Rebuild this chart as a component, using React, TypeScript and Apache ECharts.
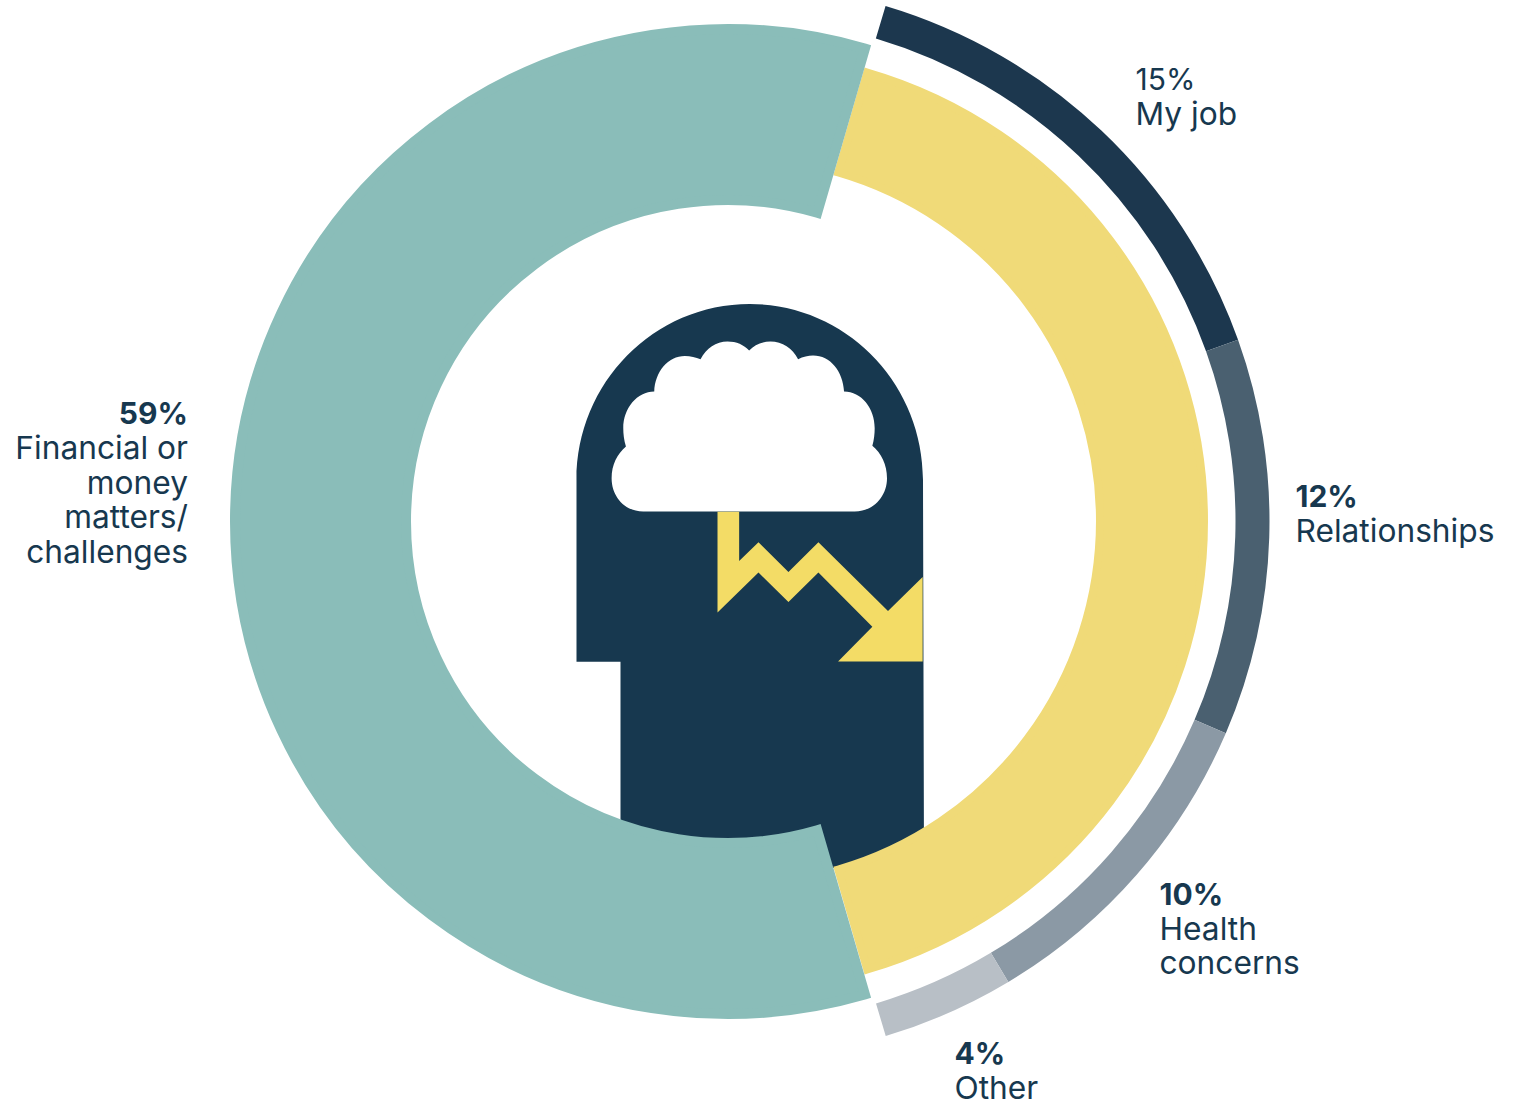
import React, { useEffect, useRef } from "react";
import * as echarts from "echarts";

// Survey shares
const financialCategory = "Financial or money matters/ challenges";
const financialValue = 59;
const otherCategories = ["My job", "Relationships", "Health concerns", "Other"];
const otherValues = [15, 12, 10, 4];
const otherTotal = 41;

const outerColors = ["#1c374e", "#4a6070", "#8b99a5", "#b8bfc6"];
const TEAL = "#8abdb9";
const YELLOW = "#f0da78";
const NAVY = "#17384f";
const ARROW = "#f3dc66";

// Label blocks: percentage line followed by wrapped description lines
const labelBlocks = [
  { pct: "59%", lines: ["Financial or", "money", "matters/", "challenges"], x: 188, y: 413, align: "right", style: "bold" },
  { pct: "15%", lines: ["My job"], x: 1135.5, y: 78.5, align: "left", style: "plain" },
  { pct: "12%", lines: ["Relationships"], x: 1295.5, y: 496, align: "left", style: "bold" },
  { pct: "10%", lines: ["Health", "concerns"], x: 1159.5, y: 893.5, align: "left", style: "bold" },
  { pct: "4%", lines: ["Other"], x: 954.5, y: 1052.5, align: "left", style: "bold" },
];
const LINE_HEIGHT = 34.6;

// Head silhouette, cloud and falling arrow
const HEAD_D =
  "M576.5 661.7 V480 C576.5 382.8 654 304 749.75 304 C845.5 304 923 382.8 923 480 L924 868 H620.5 V661.7 Z";
const CLOUD_D =
  "M250 665 C195 665 155 620 155 565 C155 525 172 492 198 470 C192 450 190 432 190 415 C190 355 232 305 283 305 C285 245 325 198 375 198 C392 198 408 202 422 208 C440 175 468 155 503 155 C530 155 552 165 568 182 C584 165 605 155 632 155 C668 155 698 175 715 208 C730 201 745 197 760 197 C812 197 850 245 853 305 C905 305 945 355 945 415 C945 432 943 450 938 468 C965 490 982 525 982 565 C982 620 940 665 885 665 Z";
const ARROW_D =
  "M473 35 L538 35 L538 183 L596 127 L686 216 L776 127 L985 333 L1089 231 L1089 485 L835 485 L938 381 L776 218 L686 306 L596 218 L473 338 Z";

echarts.graphic.registerShape("headShape", echarts.graphic.extendPath(HEAD_D, {}) as any);
echarts.graphic.registerShape("cloudShape", echarts.graphic.extendPath(CLOUD_D, {}) as any);
echarts.graphic.registerShape("arrowShape", echarts.graphic.extendPath(ARROW_D, {}) as any);

const hidden = { itemStyle: { color: "rgba(0,0,0,0)" } };
const pieBase = {
  type: "pie",
  startAngle: 73.8,
  clockwise: true,
  silent: true,
  label: { show: false },
  labelLine: { show: false },
  emphasis: { disabled: true },
};
// A stroke in the fill colour pushes a ring's cut ends out to meet its neighbour
const solid = (color: string, width: number) => ({
  color,
  borderColor: color,
  borderWidth: width,
  borderJoin: "miter",
});

export default function App() {
  const ref = useRef<HTMLDivElement>(null);

  useEffect(() => {
    const chart = echarts.init(ref.current!, undefined, { renderer: "svg" });

    const texts = labelBlocks.map((b) => ({
      type: "text",
      z: 10,
      style: {
        x: b.x,
        y: b.y - LINE_HEIGHT / 2,
        text: [`{${b.style}|${b.pct}}`, ...b.lines.map((l) => `{line|${l}}`)].join("\n"),
        align: b.align,
        verticalAlign: "top",
        rich: {
          bold: { font: "700 30px Inter", fill: NAVY, lineHeight: LINE_HEIGHT },
          plain: { font: "400 30px Inter", fill: NAVY, lineHeight: LINE_HEIGHT },
          line: { font: "400 31.7px Inter", fill: NAVY, lineHeight: LINE_HEIGHT },
        },
      },
    }));

    chart.setOption({
      animation: false,
      backgroundColor: "#ffffff",
      series: [
        {
          ...pieBase,
          name: "Other causes",
          center: [737, 521],
          radius: [363, 467],
          z: 2,
          data: [
            { name: "Other causes", value: otherTotal, itemStyle: solid(YELLOW, 8) },
            { name: "", value: financialValue, ...hidden },
          ],
        },
        {
          ...pieBase,
          name: "Breakdown",
          center: [732, 521],
          radius: [503.5, 537.5],
          startAngle: 73.4,
          endAngle: -284.6,
          z: 3,
          data: [
            ...otherCategories.map((name, i) => ({
              name,
              value: otherValues[i],
              itemStyle: { color: outerColors[i] },
            })),
            { name: "", value: financialValue, ...hidden },
          ],
        },
        {
          ...pieBase,
          name: "Financial",
          center: [727.5, 521.5],
          radius: [321.5, 492.5],
          z: 4,
          data: [
            { name: "", value: otherTotal, ...hidden },
            { name: financialCategory, value: financialValue, itemStyle: solid(TEAL, 10) },
          ],
        },
      ],
      graphic: {
        elements: [
          { type: "headShape", x: 0, y: 0, z: 0, silent: true, style: { fill: NAVY } },
          { type: "cloudShape", x: 560, y: 290, scaleX: 1 / 3, scaleY: 1 / 3, z: 1, silent: true, style: { fill: "#ffffff" } },
          { type: "arrowShape", x: 560, y: 500, scaleX: 1 / 3, scaleY: 1 / 3, z: 1, silent: true, style: { fill: ARROW } },
          ...texts,
        ],
      },
    });

    return () => chart.dispose();
  }, []);

  return (
    <div
      ref={ref}
      style={{ position: "fixed", left: 0, top: 0, width: 1529, height: 1104 }}
    />
  );
}
